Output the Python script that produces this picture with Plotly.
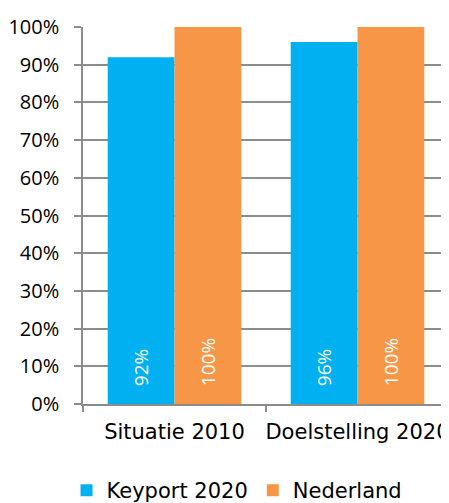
import plotly.graph_objects as go

categories = ["Situatie 2010", "Doelstelling 2020"]
keyport = [92, 96]
nederland = [100, 100]
series_names = ["Keyport 2020", "Nederland"]
y_ticks = [0, 10, 20, 30, 40, 50, 60, 70, 80, 90, 100]
y_tick_labels = [f"{v}%" for v in y_ticks]

BLUE = "#00B0F0"
ORANGE = "#F79646"
GRID = "#8C8C8C"
FONT = "DejaVu Sans"
FONT2 = "Open Sans"
PAD = "\u00a0" * 3

fig = go.Figure()
for name, vals, col in [(series_names[0], keyport, BLUE), (series_names[1], nederland, ORANGE)]:
    fig.add_trace(go.Bar(
        x=categories, y=vals, name=name, marker_color=col, marker_line_width=0,
        text=[f"{PAD}{v}%" for v in vals], textposition="inside", insidetextanchor="start",
        textangle=-90, textfont=dict(color="white", size=19, family=FONT2),
    ))

# page body has an 8px margin, so the figure is sized/offset to fit the window
fig.update_layout(
    width=441, height=495,
    margin=dict(l=75, r=0, t=19, b=99, autoexpand=False),
    barmode="group", bargap=0.27, bargroupgap=0,
    plot_bgcolor="white", paper_bgcolor="white",
    font=dict(family=FONT, size=16, color="black"),
    showlegend=True,
    legend=dict(orientation="h", x=-0.045, xanchor="left", y=-0.175, yanchor="top",
                font=dict(size=21, family=FONT), itemwidth=30, traceorder="normal"),
    uniformtext=dict(mode=False),
)
fig.update_xaxes(showline=True, linecolor=GRID, linewidth=1.5, ticks="outside",
                 tickson="boundaries", ticklen=6, tickcolor=GRID, tickwidth=1.5,
                 showgrid=False, tickfont=dict(size=21, family=FONT), tickangle=0,
                 automargin=False, ticklabelstandoff=8)
fig.update_yaxes(range=[0, 100], tickvals=y_ticks, ticktext=y_tick_labels,
                 showline=True, linecolor=GRID, linewidth=1.5, ticks="outside",
                 ticklen=7, tickcolor=GRID, tickwidth=1.5,
                 showgrid=True, gridcolor=GRID, gridwidth=1.5, zeroline=False,
                 tickfont=dict(size=20, family=FONT2), automargin=False,
                 ticklabelstandoff=11)

fig.write_html("out.html")
